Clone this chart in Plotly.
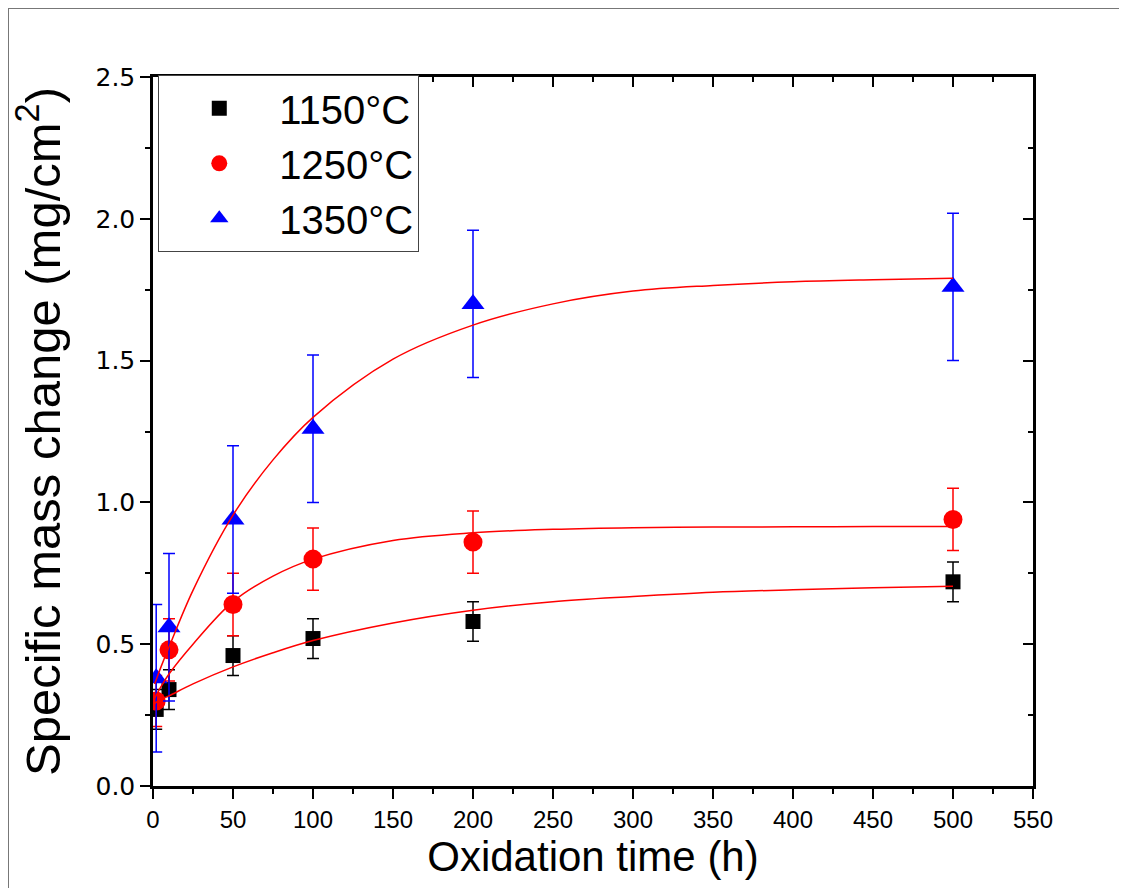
import plotly.graph_objects as go

# measured points (h, mg/cm2) with error bars
time_h = [2, 10, 50, 100, 200, 500]
mass_1150 = [0.27, 0.34, 0.46, 0.52, 0.58, 0.72]
err_1150 = [0.07, 0.07, 0.07, 0.07, 0.07, 0.07]
mass_1250 = [0.30, 0.48, 0.64, 0.80, 0.86, 0.94]
err_1250 = [0.09, 0.11, 0.11, 0.11, 0.11, 0.11]
mass_1350 = [0.38, 0.56, 0.94, 1.26, 1.70, 1.76]
err_1350 = [0.26, 0.26, 0.26, 0.26, 0.26, 0.26]

# fitted curves
fit_t = [1, 2, 5, 10, 25, 50, 75, 100, 150, 200, 250, 300, 350, 400, 450, 500]
fit_1150 = [0.29, 0.295, 0.305, 0.318, 0.36, 0.42, 0.47, 0.513, 0.575, 0.62,
            0.65, 0.668, 0.683, 0.692, 0.699, 0.704]
fit_1250 = [0.31, 0.32, 0.35, 0.395, 0.50, 0.65, 0.74, 0.80, 0.866, 0.893,
            0.905, 0.911, 0.913, 0.914, 0.915, 0.915]
fit_1350 = [0.36, 0.375, 0.42, 0.49, 0.69, 0.955, 1.15, 1.30, 1.505, 1.625,
            1.70, 1.745, 1.765, 1.778, 1.785, 1.79]

W, H = 1127, 888
# the page body adds an 8px offset, margins allow for it
L, R, T, B = 145, 102, 69, 110
pw, ph = W - L - R, H - T - B

font = "Liberation Sans, Arial"

fig = go.Figure()

series = [
    ("1150°C", mass_1150, err_1150, "black", "square", 15),
    ("1250°C", mass_1250, err_1250, "red", "circle", 19),
    ("1350°C", mass_1350, err_1350, "blue", "triangle-up", 20),
]
for name, y, e, col, sym, size in series:
    fig.add_trace(go.Scatter(
        x=time_h, y=y, name=name, mode="markers",
        marker=dict(symbol=sym, size=size, color=col, line=dict(width=0)),
        error_y=dict(type="data", array=e, color=col, thickness=1.5, width=6),
    ))

for fy in [fit_1150, fit_1250, fit_1350]:
    fig.add_trace(go.Scatter(
        x=fit_t, y=fy, mode="lines", showlegend=False, hoverinfo="skip",
        line=dict(color="red", width=1.5, shape="spline", smoothing=1.0),
    ))

# empty traces so the mirror axes (top / right) get drawn
fig.add_trace(go.Scatter(x=[None], y=[None], xaxis="x2", yaxis="y",
                         showlegend=False, hoverinfo="skip"))
fig.add_trace(go.Scatter(x=[None], y=[None], xaxis="x", yaxis="y2",
                         showlegend=False, hoverinfo="skip"))

fig.update_layout(
    width=W, height=H,
    margin=dict(l=L, r=R, t=T, b=B),
    paper_bgcolor="white", plot_bgcolor="white",
    showlegend=True,
    legend=dict(
        x=0.006, y=1.003, xanchor="left", yanchor="top",
        font=dict(family=font, size=40, color="black"),
        bgcolor="white", bordercolor="#444", borderwidth=1,
        itemwidth=110,
    ),
    xaxis=dict(
        range=[0, 550], tick0=0, dtick=50, showgrid=False, zeroline=False,
        automargin=False,
        showline=True, linecolor="black", linewidth=2.5,
        ticks="outside", ticklen=10, tickwidth=2, tickcolor="black",
        minor=dict(dtick=25, ticks="outside", ticklen=5, tickwidth=1.5, tickcolor="black"),
        tickfont=dict(family=font, size=24, color="black"),
        title=dict(text="Oxidation time (h)", standoff=10,
                   font=dict(family=font, size=42, color="black")),
    ),
    yaxis=dict(
        range=[0, 2.5], tick0=0, dtick=0.5, tickformat=".1f",
        showgrid=False, zeroline=False, automargin=False,
        showline=True, linecolor="black", linewidth=2.5,
        ticks="outside", ticklen=10, tickwidth=2, tickcolor="black",
        minor=dict(dtick=0.25, ticks="outside", ticklen=5, tickwidth=1.5, tickcolor="black"),
        tickfont=dict(family="DejaVu Sans", size=25, color="black"),
        title=dict(text="Specific mass change (mg/cm<sup>2</sup>)", standoff=24,
                   font=dict(family=font, size=49, color="black")),
    ),
    xaxis2=dict(
        overlaying="x", side="top", anchor="y", matches="x", automargin=False,
        range=[0, 550], tick0=0, dtick=50, showgrid=False, zeroline=False,
        showline=True, linecolor="black", linewidth=2.5, showticklabels=False,
        ticks="inside", ticklen=10, tickwidth=2, tickcolor="black",
        minor=dict(dtick=25, ticks="inside", ticklen=5, tickwidth=1.5, tickcolor="black"),
    ),
    yaxis2=dict(
        overlaying="y", side="right", anchor="x", matches="y", automargin=False,
        range=[0, 2.5], tick0=0, dtick=0.5, showgrid=False, zeroline=False,
        showline=True, linecolor="black", linewidth=2.5, showticklabels=False,
        ticks="inside", ticklen=10, tickwidth=2, tickcolor="black",
        minor=dict(dtick=0.25, ticks="inside", ticklen=5, tickwidth=1.5, tickcolor="black"),
    ),
)

# grey outer frame of the image (top and left edges visible)
fig.add_shape(
    type="rect", xref="paper", yref="paper",
    x0=(0 - L) / pw, x1=(W + 10 - L) / pw,
    y0=(H - B - (H + 10)) / ph, y1=(H - B - 0) / ph,
    line=dict(color="#777", width=2), fillcolor="rgba(0,0,0,0)", layer="below",
)

fig.write_html("out.html")
